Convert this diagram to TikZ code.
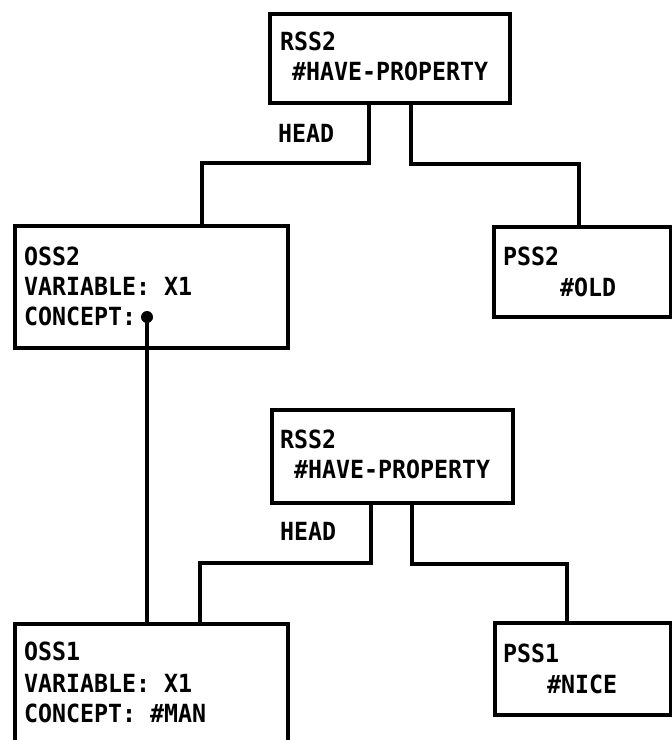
\documentclass[tikz,border=0pt]{standalone}
\usepackage{fontspec}
\newfontfamily\termfont{DejaVu Sans Mono}[FakeStretch=0.93]
\usepackage{tikz}
\usetikzlibrary{calc}

\begin{document}
\begin{tikzpicture}[x=1pt, y=-1pt,
    ssbox/.style={draw, line width=3.5pt, rectangle, inner sep=0pt, outer sep=0pt, anchor=north west},
    sstext/.style={anchor=base west, inner sep=0pt, font=\termfont\bfseries\fontsize{25}{30}\selectfont},
    link/.style={line width=3.5pt}]
    \clip (0,0) rectangle (672,740);
    % upper structure
    \node[ssbox, minimum width=240pt, minimum height=89pt] (rss2a) at (270,14) {};
    \node[sstext] (rss2aname) at (280,50) {RSS2};
    \node[sstext] (rss2arel) at (292,80) {\#HAVE-PROPERTY};
    \node[sstext] (heada) at (278,142) {HEAD};
    \node[ssbox, minimum width=273pt, minimum height=122pt] (oss2) at (15,226) {};
    \node[sstext] (oss2name) at (24,265) {OSS2};
    \node[sstext] (oss2var) at (24,295) {VARIABLE: X1};
    \node[sstext] (oss2con) at (24,325) {CONCEPT:};
    \node[circle, fill, inner sep=0pt, minimum size=12pt] (dot) at (147,317) {};
    \node[ssbox, minimum width=177pt, minimum height=90pt] (pss2) at (494,227) {};
    \node[sstext] (pss2name) at (503,265) {PSS2};
    \node[sstext] (pss2val) at (560,296) {\#OLD};
    \draw[link] ([xshift=99pt]rss2a.south west) -- ++(0,60) -| ([xshift=187pt]oss2.north west);
    \draw[link] ([xshift=141pt]rss2a.south west) -- ++(0,61) -| ([xshift=85pt]pss2.north west);
    % lower structure
    \node[ssbox, minimum width=241pt, minimum height=93pt] (rss2b) at (272,410) {};
    \node[sstext] (rss2bname) at (280,448) {RSS2};
    \node[sstext] (rss2brel) at (294,478) {\#HAVE-PROPERTY};
    \node[sstext] (headb) at (280,540) {HEAD};
    \node[ssbox, minimum width=273pt, minimum height=130pt] (oss1) at (15,624) {};
    \node[sstext] (oss1name) at (24,660) {OSS1};
    \node[sstext] (oss1var) at (24,692) {VARIABLE: X1};
    \node[sstext] (oss1con) at (24,722) {CONCEPT: \#MAN};
    \node[ssbox, minimum width=176pt, minimum height=92pt] (pss1) at (495,623) {};
    \node[sstext] (pss1name) at (503,662) {PSS1};
    \node[sstext] (pss1val) at (547,693) {\#NICE};
    \draw[link] ([xshift=99pt]rss2b.south west) -- ++(0,60) -| ([xshift=185pt]oss1.north west);
    \draw[link] ([xshift=140pt]rss2b.south west) -- ++(0,61) -| ([xshift=72pt]pss1.north west);
    % concept pointer
    \draw[link] (dot.center) -- (dot.center |- oss1.north);
\end{tikzpicture}
\end{document}
